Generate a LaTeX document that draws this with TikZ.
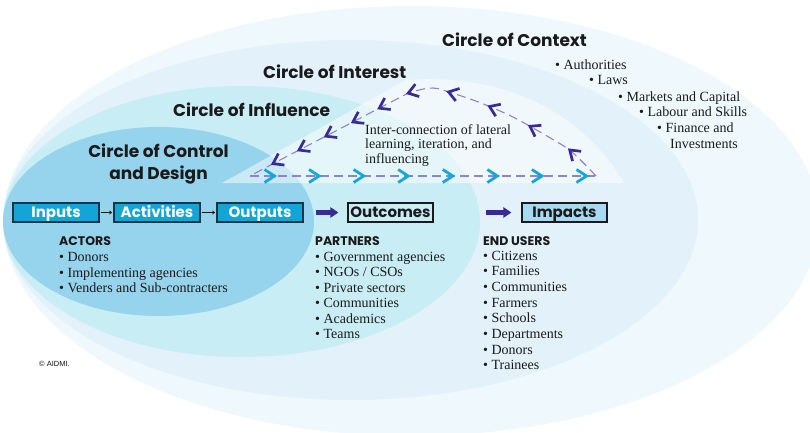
\documentclass[tikz,border=0pt]{standalone}
\usepackage{fontspec}
\setmainfont{Liberation Serif}
\newfontfamily\ttl{Poppins}
\newfontfamily\lsans{Liberation Sans}
\usetikzlibrary{arrows.meta,decorations.markings}
\definecolor{ctxC}{HTML}{EFF8FC}
\definecolor{intC}{HTML}{E2F1FA}
\definecolor{infC}{HTML}{C9EDF4}
\definecolor{conC}{HTML}{96D3EC}
\definecolor{boxC}{HTML}{12A5D6}
\definecolor{boxEdge}{HTML}{1B3346}
\definecolor{impC}{HTML}{A6DAF2}
\definecolor{purpA}{HTML}{3A2A94}
\definecolor{purpL}{HTML}{8C84CC}
\definecolor{chevC}{HTML}{16A6D9}
\definecolor{inkC}{HTML}{1A1A1A}
\pgfkeys{/pgf/decoration/pchev/.style={mark=at position #1 with {\draw[pchevline] (-5pt,-6.5pt) -- (4.5pt,0pt) -- (-5pt,6.5pt);}}}
\begin{document}
\begin{tikzpicture}[x=1pt,y=-1pt,
  titletext/.style={font=\ttl\bfseries\fontsize{17}{20}\selectfont, text=inkC, inner sep=0pt},
  headtext/.style={font=\ttl\bfseries\fontsize{12.5}{14}\selectfont, text=inkC, inner sep=0pt, anchor=base west},
  itemtext/.style={font=\fontsize{14}{15.6}\selectfont, text=inkC, inner sep=0pt, anchor=base west},
  flowbox/.style={draw=boxEdge, line width=1.1pt, minimum width=86pt, text height=12.5pt, text depth=3.5pt, inner xsep=0pt, inner ysep=1.5pt, font=\ttl\bfseries\fontsize{15}{17}\selectfont},
  bluebox/.style={flowbox, fill=boxC, text=white},
  thinarrow/.style={-{To[length=3pt,width=4pt]}, line width=0.6pt, draw=inkC, shorten <=1pt, shorten >=1.5pt},
  bigarrow/.style={-{Triangle[length=8pt,width=10pt]}, line width=4.5pt, draw=purpA},
  loopline/.style={draw=purpL, line width=1.1pt, dash pattern=on 9pt off 5pt},
  pchevline/.style={solid, draw=purpA, line width=2.7pt, line join=miter, line cap=butt},
  cchev/.style={solid, draw=chevC, line width=2.8pt, line join=miter},
]
\useasboundingbox (0,0) rectangle (810,433);
\clip (0,0) rectangle (810,433);
\fill[white] (0,0) rectangle (810,433);
% circles
\fill[ctxC] (411,221) ellipse [x radius=408pt, y radius=215pt];
\fill[intC] (350.5,220) ellipse [x radius=347.5pt, y radius=180pt];
\fill[infC] (241.5,221.5) ellipse [x radius=238.5pt, y radius=135.5pt];
\fill[conC] (158.5,221.5) ellipse [x radius=155.5pt, y radius=94.5pt];
% lighter triangle
\fill[white, fill opacity=0.5] (222,183) -- (406,80) .. controls (520,72) and (590,125) .. (624,183) -- cycle;
% loop
\coordinate (loopL) at (250,176);
\coordinate (loopR) at (596,176);
\draw[loopline] (loopL) -- (loopR);
\draw[loopline, postaction={decorate}, decoration={markings, pchev=0.083, pchev=0.201, pchev=0.316, pchev=0.427, pchev=0.533, pchev=0.616, pchev=0.692, pchev=0.770, pchev=0.847, pchev=0.922}]
  plot[smooth, tension=0.6] coordinates {(596,176) (572,152) (552,139) (533,128) (513,117) (493,108) (473,100) (452,93) (433,88) (412,92) (395,100) (330,134) (280,160) (250,176)};
\foreach \cx in {0,...,7}
  \draw[cchev] ({270+44.57*\cx-5.5},169.5) -- ({270+44.57*\cx+4.5},176) -- ({270+44.57*\cx-5.5},182.5);
% titles
\node[titletext, anchor=base west] (tctx) at (442,46.7) {Circle of Context};
\node[titletext, anchor=base west] (tint) at (263,78.3) {Circle of Interest};
\node[titletext, anchor=base west] (tinf) at (173,116.7) {Circle of Influence};
\node[titletext, anchor=base] (tcon1) at (158.5,157.5) {Circle of Control};
\node[titletext, anchor=base] (tcon2) at (158.5,179.5) {and Design};
% context list
\node[itemtext] (cx1) at (555,69.3) {• Authorities};
\node[itemtext] (cx2) at (589,85) {• Laws};
\node[itemtext] (cx3) at (618,101.3) {• Markets and Capital};
\node[itemtext] (cx4) at (639,117) {• Labour and Skills};
\node[itemtext] (cx5) at (657,132.7) {• Finance and};
\node[itemtext] (cx6) at (670,148.3) {Investments};
% interconnection text
\node[itemtext] (ic1) at (365,134) {Inter-connection of lateral};
\node[itemtext] (ic2) at (365,148.5) {learning, iteration, and};
\node[itemtext] (ic3) at (365,163) {influencing};
% boxes
\node[bluebox] (inputs) at (56,212.5) {Inputs};
\node[bluebox] (activities) at (157,212.5) {Activities};
\node[bluebox] (outputs) at (260,212.5) {Outputs};
\node[flowbox, draw=inkC, minimum width=85pt, text=inkC] (outcomes) at (390.5,212.5) {Outcomes};
\node[flowbox, draw=inkC, fill=impC, minimum width=85pt, text=inkC] (impacts) at (564.5,212.5) {Impacts};
\draw[thinarrow] (inputs) -- (activities);
\draw[thinarrow] (activities) -- (outputs);
\draw[bigarrow, shorten <=12pt, shorten >=9pt] (outputs) -- (outcomes);
\draw[bigarrow, shorten <=52.7pt, shorten >=10pt] (outcomes) -- (impacts);
% actors
\node[headtext] (hact) at (59,245) {ACTORS};
\foreach \t [count=\i] in {Donors, Implementing agencies, Venders and Sub-contracters}
  \node[itemtext] (act\i) at (59,{261.7+15.5*(\i-1)}) {•\ \t};
% partners
\node[headtext] (hpar) at (315,245) {PARTNERS};
\foreach \t [count=\i] in {Government agencies, NGOs / CSOs, Private sectors, Communities, Academics, Teams}
  \node[itemtext] (par\i) at (315,{261+15.55*(\i-1)}) {•\ \t};
% end users
\node[headtext] (hend) at (483,245) {END USERS};
\foreach \t [count=\i] in {Citizens, Families, Communities, Farmers, Schools, Departments, Donors, Trainees}
  \node[itemtext] (end\i) at (483,{260+15.7*(\i-1)}) {•\ \t};
% copyright
\node[font=\lsans\fontsize{7.5}{9}\selectfont, text=inkC, anchor=base west, inner sep=0pt] (copy) at (39,366) {© AIDMI.};
\end{tikzpicture}
\end{document}
